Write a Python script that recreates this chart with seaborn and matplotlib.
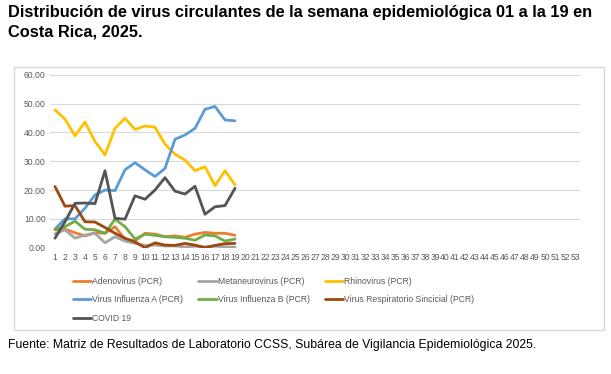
import numpy as np
import pandas as pd
import matplotlib
matplotlib.use("Agg")
import matplotlib.pyplot as plt
from matplotlib.patches import Rectangle
import seaborn as sns

weeks = list(range(1, 20))
all_weeks = list(range(1, 54))

adenovirus = [6.2, 6.4, 5.2, 4.1, 5.2, 5.0, 7.3, 2.9, 2.3, 5.0, 4.7, 3.8, 4.1, 3.6, 4.7, 5.3, 5.0, 5.0, 4.3]
metaneurovirus = [4.8, 6.2, 3.3, 4.4, 5.0, 1.7, 3.8, 2.3, 1.5, 0.8, 0.9, 0.6, 0.6, 0.3, 0.5, 0.3, 0.5, 0.3, 0.2]
rhinovirus = [47.8, 44.6, 38.8, 43.6, 36.8, 32.2, 41.4, 44.9, 41.0, 42.2, 41.8, 35.9, 32.4, 30.4, 26.7, 28.1, 21.5, 26.7, 21.8]
influenza_a = [6.5, 10.0, 10.0, 13.7, 18.3, 20.0, 19.8, 27.0, 29.5, 27.0, 24.7, 27.5, 37.6, 39.1, 41.4, 48.0, 49.0, 44.3, 44.0]
influenza_b = [6.4, 7.3, 9.2, 6.4, 6.2, 5.0, 9.9, 7.3, 3.0, 4.7, 4.3, 3.8, 3.6, 3.3, 2.6, 4.4, 4.1, 2.3, 3.0]
vrs = [21.2, 14.4, 14.6, 9.0, 8.9, 7.0, 5.0, 3.3, 2.0, 0.0, 1.7, 0.9, 0.8, 1.5, 0.9, 0.0, 0.8, 1.4, 1.5]
covid = [3.3, 9.0, 15.4, 15.5, 15.3, 26.7, 10.2, 9.9, 18.0, 16.8, 20.0, 24.3, 19.6, 18.6, 21.3, 11.6, 14.2, 14.6, 20.6]

series_names = ["Adenovirus (PCR)", "Metaneurovirus (PCR)", "Rhinovirus (PCR)",
                "Virus Influenza A (PCR)", "Virus Influenza B (PCR)",
                "Virus Respiratorio Sincicial (PCR)", "COVID 19"]
series_values = [adenovirus, metaneurovirus, rhinovirus, influenza_a, influenza_b, vrs, covid]
colors = ["#ED7D31", "#A5A5A5", "#FFC000", "#5B9BD5", "#70AD47", "#9E480E", "#545454"]
y_ticks = [0, 10, 20, 30, 40, 50, 60]

title = "Distribución de virus circulantes de la semana epidemiológica 01 a la 19 en\nCosta Rica, 2025."
source = "Fuente: Matriz de Resultados de Laboratorio CCSS, Subárea de Vigilancia Epidemiológica 2025."

df = pd.DataFrame({
    "semana": np.tile(weeks, len(series_names)),
    "valor": np.concatenate(series_values),
    "virus": np.repeat(series_names, len(weeks)),
})

sns.set_theme(style="white")
plt.rcParams["font.family"] = ["Liberation Sans", "DejaVu Sans"]

W, H = 611, 374
fig = plt.figure(figsize=(W / 100, H / 100), dpi=100)
fig.patch.set_facecolor("white")

# chart border
fig.patches.append(Rectangle((14 / W, 1 - 330 / H), 590 / W, 263 / H, transform=fig.transFigure,
                             fill=False, edgecolor="#D9D9D9", linewidth=1.0, zorder=0))

ax = fig.add_axes([50 / W, 1 - 247.7 / H, 530 / W, 173 / H])
sns.lineplot(data=df, x="semana", y="valor", hue="virus", hue_order=series_names,
             palette=colors, linewidth=2.0, ax=ax, legend=False)

ax.set_xlim(0.5, 53.5)
ax.set_ylim(0, 60)
ax.set_xticks(all_weeks)
ax.set_xticklabels([str(w) for w in all_weeks], fontsize=6.2, color="#595959")
ax.set_yticks(y_ticks)
ax.set_yticklabels([f"{v:.2f}" for v in y_ticks], fontsize=6.2, color="#595959")
ax.tick_params(axis="both", length=0, pad=3)
ax.tick_params(axis="x", pad=4)
ax.set_xlabel("")
ax.set_ylabel("")
for s in ax.spines.values():
    s.set_visible(False)
ax.grid(axis="y", color="#D9D9D9", linewidth=0.8)
ax.set_axisbelow(True)

# legend (row-wise ordering like Excel)
handles = {}
for name, c in zip(series_names, colors):
    handles[name] = plt.Line2D([], [], color=c, linewidth=2.0)
order = [0, 3, 6, 1, 4, 2, 5]
leg = fig.legend([handles[series_names[i]] for i in order], [series_names[i] for i in order],
                 loc="upper left", bbox_to_anchor=(73 / W, 1 - 277 / H), ncol=3, frameon=False,
                 fontsize=6.2, handlelength=2.1, handletextpad=0.15, columnspacing=1.75,
                 labelspacing=1.1, borderaxespad=0, borderpad=0)
for t in leg.get_texts():
    t.set_color("#595959")

fig.text(8 / W, 1 - 5 / H, title, ha="left", va="top", fontsize=11.8, fontweight="bold",
         color="black", linespacing=1.4)
fig.text(8 / W, 1 - 345 / H, source, ha="left", va="center", fontsize=8.8, color="black")

fig.savefig("out.png", dpi=100, facecolor="white")
